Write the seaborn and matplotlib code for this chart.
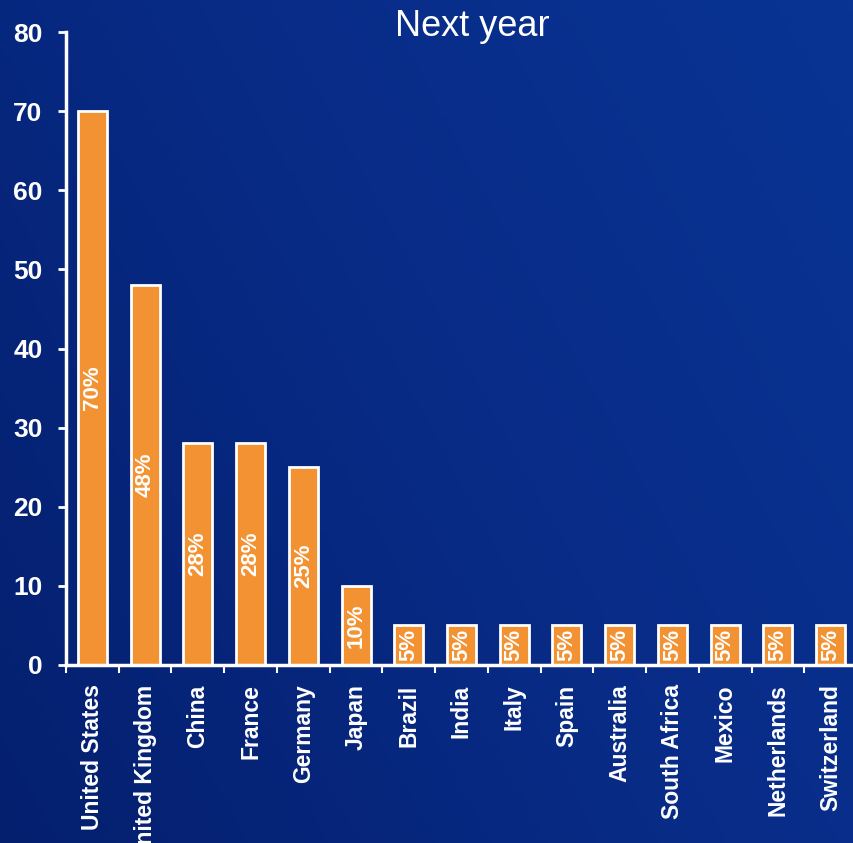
import numpy as np
import pandas as pd
import matplotlib
matplotlib.use("Agg")
import matplotlib.pyplot as plt
from matplotlib.colors import LinearSegmentedColormap
import seaborn as sns

countries = ["United States", "United Kingdom", "China", "France", "Germany",
             "Japan", "Brazil", "India", "Italy", "Spain", "Australia",
             "South Africa", "Mexico", "Netherlands", "Switzerland"]
shares = [70, 48, 28, 28, 25, 10, 5, 5, 5, 5, 5, 5, 5, 5, 5]
y_ticks = [0, 10, 20, 30, 40, 50, 60, 70, 80]
title = "Next year"

df = pd.DataFrame({"country": countries, "share": shares})

sns.set_theme(style="white")
plt.rcParams["font.family"] = ["Liberation Sans", "DejaVu Sans"]

W, H = 854, 843
fig = plt.figure(figsize=(W / 100, H / 100), dpi=100)

# blue backdrop: darker toward the lower left, brighter toward the upper right
bg = fig.add_axes([0, 0, 1, 1], zorder=-10)
xx, yy = np.meshgrid(np.linspace(0, 1, 200), np.linspace(0, 1, 200))
t = 0.65 * xx + 0.35 * (1 - yy)
cmap = LinearSegmentedColormap.from_list("bgblue", ["#041f6e", "#082b86", "#093494"])
bg.imshow(t, cmap=cmap, aspect="auto", extent=[0, 1, 0, 1], origin="upper")
bg.axis("off")

left = 66 / W
right = 857 / W
bottom = (H - 665) / H
top = (H - 32) / H
ax = fig.add_axes([left, bottom, right - left, top - bottom])
ax.patch.set_alpha(0)

sns.barplot(data=df, x="country", y="share", ax=ax, color="#f39233",
            saturation=1, width=0.55, edgecolor="white", linewidth=2)

ax.set_xlim(-0.5, len(countries) - 0.5)
ax.set_ylim(0, 80)
ax.set_xlabel("")
ax.set_ylabel("")

# value labels centred inside each bar
for i, v in enumerate(shares):
    ax.text(i, v / 2, f"{v}%", rotation=90, ha="center", va="center",
            color="white", fontsize=16, fontweight="bold")

# ticks at category boundaries, labels at category centres
ax.set_xticks(np.arange(-0.5, len(countries), 1.0))
ax.set_xticklabels([])
ax.set_xticks(np.arange(len(countries)), minor=True)
ax.set_xticklabels(countries, minor=True, rotation=90, ha="center", va="top",
                   color="white", fontsize=16.5, fontweight="bold")
ax.tick_params(axis="x", which="major", direction="out", length=6, width=1.5,
               color="white", bottom=True)
ax.tick_params(axis="x", which="minor", length=0, pad=14, bottom=True)

ax.set_yticks(y_ticks)
ax.set_yticklabels([str(v) for v in y_ticks], color="white", fontsize=19,
                   fontweight="bold")
ax.tick_params(axis="y", direction="out", length=6, width=2, color="white",
               pad=11, left=True)

for side in ["top", "right"]:
    ax.spines[side].set_visible(False)
for side in ["left", "bottom"]:
    ax.spines[side].set_color("white")
    ax.spines[side].set_linewidth(2.5)

fig.text(472 / W, 1 - 26 / H, title, ha="center", va="center",
         color="white", fontsize=26)

fig.savefig("out.png", dpi=100)
